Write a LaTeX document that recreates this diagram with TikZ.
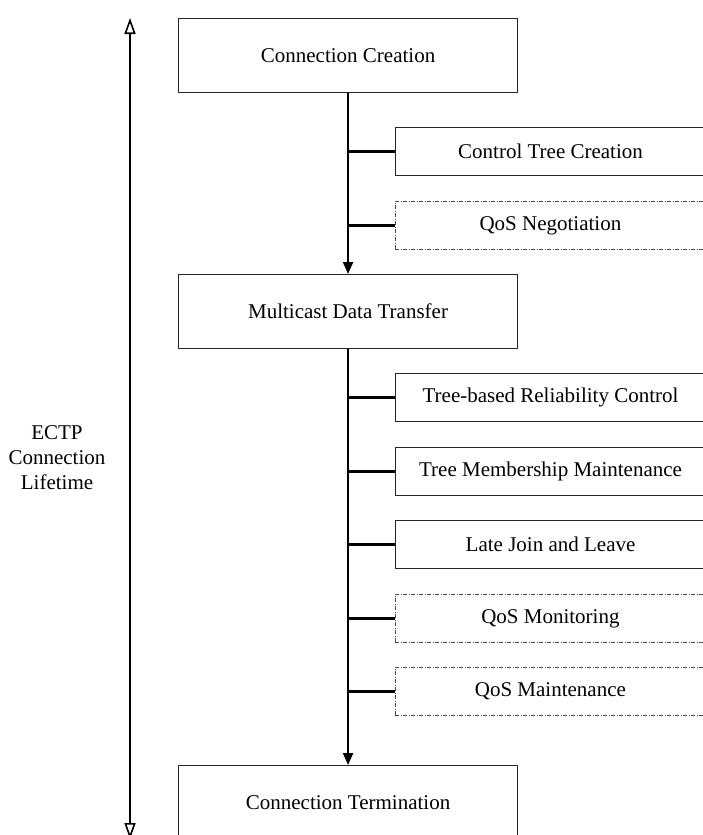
\documentclass[tikz,border=0pt]{standalone}
\usepackage{fontspec}
\setmainfont{Liberation Serif}
\usetikzlibrary{arrows.meta}
\begin{document}
\begin{tikzpicture}[x=1pt,y=-1pt,
  txt/.style={font=\fontsize{21}{25}\selectfont},
  phase/.style={txt, draw=black!85, line width=1.1pt, anchor=north west,
    minimum width=339pt, minimum height=74pt, inner sep=0pt},
  task/.style={txt, draw=black!85, line width=1.1pt, anchor=north west,
    minimum width=310pt, minimum height=48pt, inner sep=0pt},
  optional/.style={task, draw=black!70, line width=0.8pt,
    dash pattern=on 4pt off 1.5pt on 1pt off 1.5pt},
  flow/.style={line width=2.2pt, -{Triangle[width=10pt,length=12pt]}},
  branch/.style={line width=2.2pt},
  span/.style={line width=2.4pt,
    {Triangle[open,width=11pt,length=16pt,line width=1.6pt]}-{Triangle[open,width=11pt,length=16pt,line width=1.6pt]}}
]
\useasboundingbox (0,0) rectangle (703,835);
\clip (0,0) rectangle (703,835);

% main phases
\node[phase] (cc)  at (178,18)  {Connection Creation};
\node[phase] (mdt) at (178,274) {Multicast Data Transfer};
\node[phase] (ct)  at (178,765) {Connection Termination};

% tasks of the creation phase
\node[task]     (ctc) at (395,127) {Control Tree Creation};
\node[optional] (qn)  at (395,201) {QoS Negotiation};

% tasks of the data transfer phase
\node[task]     (trc) at (395,373) {Tree-based Reliability Control};
\node[task]     (tmm) at (395,447) {Tree Membership Maintenance};
\node[task]     (ljl) at (395,520) {Late Join and Leave};
\node[optional] (qmo) at (395,594) {QoS Monitoring};
\node[optional] (qma) at (395,667) {QoS Maintenance};

% phase sequence
\draw[flow] (cc.south) -- (mdt.north);
\draw[flow] (mdt.south) -- (ct.north);

% branches to the tasks
\foreach \t in {ctc,qn}
  \draw[branch] (\t.west) -- (\t.west -| cc.south);
\foreach \t in {trc,tmm,ljl,qmo,qma}
  \draw[branch] (\t.west) -- (\t.west -| mdt.south);

% connection lifetime
\coordinate (lt) at (130,18);
\coordinate (lb) at (130,839);
\draw[span] (lt) -- (lb);
\node[txt, align=center] (life) at (57,458) {ECTP\\Connection\\Lifetime};
\end{tikzpicture}
\end{document}
